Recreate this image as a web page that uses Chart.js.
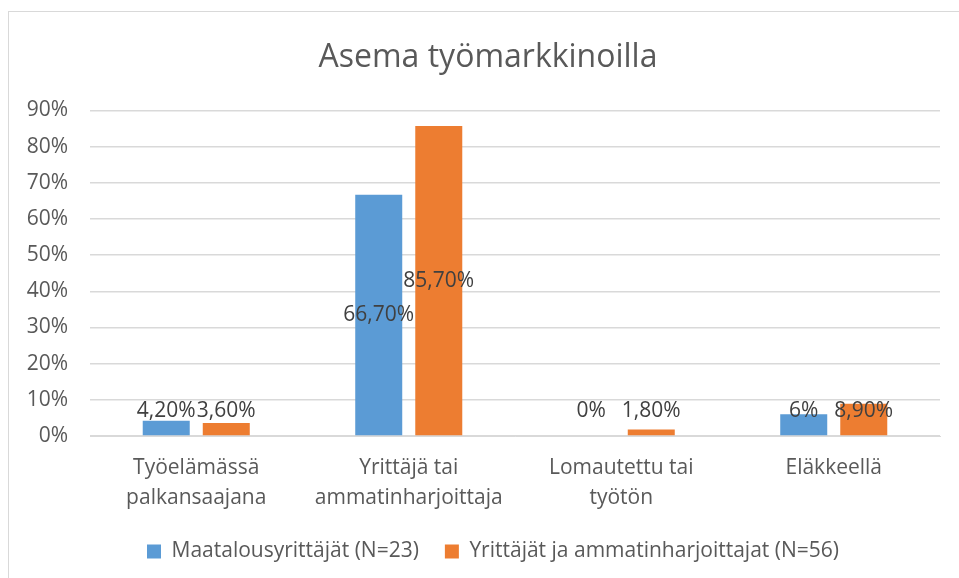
<!DOCTYPE html>
<html>
<head>
<meta charset="utf-8">
<script src="https://cdn.jsdelivr.net/npm/chart.js@4/dist/chart.umd.min.js"></script>
<style>
  html, body { margin: 0; padding: 0; background: #fff; }
  #wrap { width: 959px; height: 578px; }
</style>
</head>
<body>
<div id="wrap"><canvas id="chart" width="959" height="578"></canvas></div>
<script>
const categories = [
  ["Työelämässä", "palkansaajana"],
  ["Yrittäjä tai", "ammatinharjoittaja"],
  ["Lomautettu tai", "työtön"],
  ["Eläkkeellä"]
];
const seriesNames = ["Maatalousyrittäjät (N=23)", "Yrittäjät ja ammatinharjoittajat (N=56)"];
const farmerValues = [4.2, 66.7, 0, 6];
const entrepreneurValues = [3.6, 85.7, 1.8, 8.9];
const farmerLabels = ["4,20%", "66,70%", "0%", "6%"];
const entrepreneurLabels = ["3,60%", "85,70%", "1,80%", "8,90%"];
const yTicks = [0, 10, 20, 30, 40, 50, 60, 70, 80, 90];

const FONT = "'Open Sans', sans-serif";

// light frame round the chart; it runs off the right and bottom edge
const frame = {
  id: "frame",
  beforeDraw(chart) {
    const c = chart.ctx;
    c.save();
    c.strokeStyle = "#d9d9d9";
    c.lineWidth = 1;
    c.strokeRect(8.5, 11.5, chart.width + 20, chart.height + 20);
    c.restore();
  }
};

// title and legend are centred on the whole frame, not on the plot
const recentre = {
  id: "recentre",
  afterLayout(chart) {
    chart.titleBlock.left += 13;
    chart.titleBlock.right += 13;
    chart.legend.left += 18;
    chart.legend.right += 18;
  }
};

const valueLabels = {
  id: "valueLabels",
  afterDatasetsDraw(chart) {
    const c = chart.ctx;
    const yScale = chart.scales.y;
    const texts = [farmerLabels, entrepreneurLabels];
    c.save();
    c.font = "21px " + FONT;
    c.fillStyle = "#404040";
    c.textAlign = "center";
    c.textBaseline = "middle";
    chart.data.datasets.forEach((ds, i) => {
      chart.getDatasetMeta(i).data.forEach((el, j) => {
        const y = Math.min((el.y + el.base) / 2, yScale.bottom - 25);
        c.fillText(texts[i][j], el.x, y);
      });
    });
    c.restore();
  }
};

new Chart(document.getElementById("chart"), {
  type: "bar",
  data: {
    labels: categories,
    datasets: [
      { label: seriesNames[0], data: farmerValues, backgroundColor: "#5b9bd5" },
      { label: seriesNames[1], data: entrepreneurValues, backgroundColor: "#ed7d31" }
    ]
  },
  plugins: [frame, recentre, valueLabels],
  options: {
    responsive: false,
    animation: false,
    layout: { padding: { left: 10, right: 19, top: 0, bottom: 6 } },
    datasets: { bar: { categoryPercentage: 0.565, barPercentage: 0.783 } },
    scales: {
      x: {
        grid: { display: false },
        border: { color: "#d9d9d9" },
        ticks: { color: "#595959", font: { family: FONT, size: 21, lineHeight: 1.43 }, maxRotation: 0, padding: 9 },
        afterFit(scale) { scale.height = 79; }
      },
      y: {
        min: 0,
        max: 90,
        afterBuildTicks(scale) { scale.ticks = yTicks.map(v => ({ value: v })); },
        grid: { color: "#d9d9d9", lineWidth: 1.5, drawTicks: false },
        border: { display: false },
        ticks: { color: "#595959", font: { family: FONT, size: 21 }, padding: 22, callback: v => v + "%" },
        afterFit(scale) { scale.width = 80; }
      }
    },
    plugins: {
      title: {
        display: true,
        text: "Asema työmarkkinoilla",
        color: "#595959",
        font: { family: FONT, size: 32, weight: "normal" },
        padding: { top: 39, bottom: 33 }
      },
      legend: {
        position: "bottom",
        labels: {
          color: "#595959",
          font: { family: FONT, size: 21 },
          boxWidth: 14,
          boxHeight: 14,
          padding: 26
        }
      },
      tooltip: { enabled: false }
    }
  }
});
</script>
</body>
</html>
